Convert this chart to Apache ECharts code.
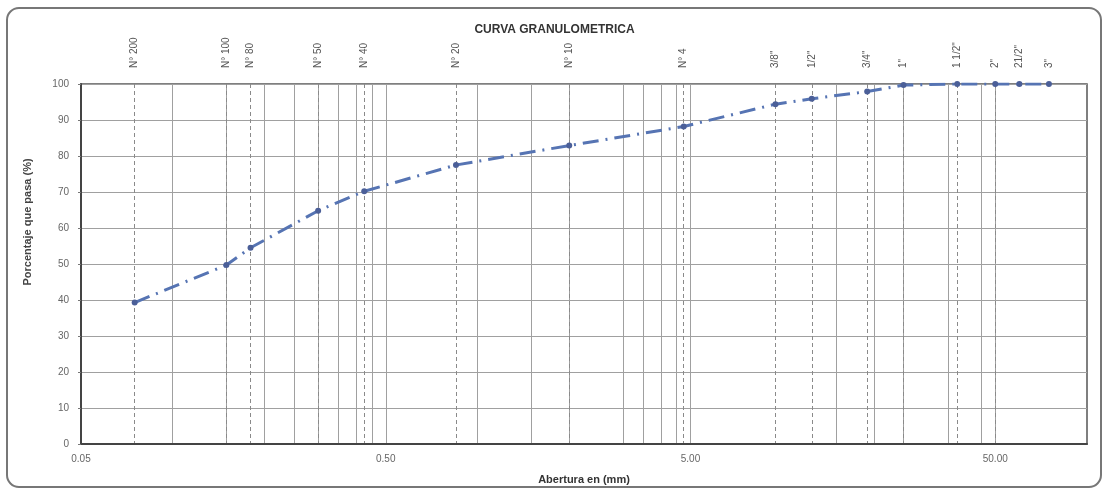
<!DOCTYPE html>
<html>
<head>
<meta charset="utf-8">
<script src="https://cdn.jsdelivr.net/npm/echarts@6/dist/echarts.min.js"></script>
<style>
  html, body { margin: 0; padding: 0; background: #ffffff; }
  #chart { width: 1109px; height: 490px; }
</style>
</head>
<body>
<div id="chart"></div>
<script>
// ---- data ----
const sieveNames = ['N° 200', 'N° 100', 'N° 80', 'N° 50', 'N° 40', 'N° 20', 'N° 10', 'N° 4',
                    '3/8"', '1/2"', '3/4"', '1"', '1 1/2"', '2"', '21/2"', '3"'];
const sieveSizes = [0.075, 0.15, 0.18, 0.30, 0.425, 0.85, 2.00, 4.75,
                    9.5, 12.5, 19.0, 25.0, 37.5, 50.0, 60.0, 75.0];
const percentPassing = [39.3, 49.7, 54.5, 64.8, 70.2, 77.5, 82.9, 88.2,
                        94.4, 95.9, 97.9, 99.7, 100, 100, 100, 100];
// sieves that have a dashed guide line
const guideSizes = [0.075, 0.15, 0.18, 0.30, 0.425, 0.85, 2.00, 4.75,
                    9.5, 12.5, 19.0, 25.0, 37.5, 50.0];
// solid vertical grid lines visible in the reference
const gridSizes = [0.1, 0.15, 0.2, 0.25, 0.3, 0.35, 0.4, 0.45, 0.5,
                   1, 1.5, 2, 3, 3.5, 4, 4.5, 5,
                   15, 20, 25, 35, 45, 50];
const xLabelValues = [0.05, 0.5, 5, 50];
const xMin = 0.05, xMax = 100;
const yMin = 0, yMax = 100, yStep = 10;

const FONT = '"Liberation Sans", Arial, sans-serif';

function sieveLabel(v) {
  let best = 0, bd = Infinity;
  for (let i = 0; i < sieveSizes.length; i++) {
    const d = Math.abs(Math.log(v) - Math.log(sieveSizes[i]));
    if (d < bd) { bd = d; best = i; }
  }
  return sieveNames[best];
}

const chart = echarts.init(document.getElementById('chart'), null, { renderer: 'canvas' });
chart.setOption({
  animation: false,
  backgroundColor: '#ffffff',
  title: {
    text: 'CURVA GRANULOMETRICA',
    left: 'center',
    top: 19,
    textStyle: { fontFamily: FONT, fontSize: 12, fontWeight: 'bold', color: '#333' }
  },
  grid: {
    left: 81, right: 22, top: 84, bottom: 43,
    show: true, borderColor: '#555', borderWidth: 1.5, backgroundColor: 'transparent'
  },
  xAxis: [
    {
      type: 'log', logBase: 10, min: xMin, max: xMax, position: 'bottom',
      name: 'Abertura en (mm)', nameLocation: 'middle', nameGap: 30,
      nameTextStyle: { fontFamily: FONT, fontSize: 11, fontWeight: 'bold', color: '#333' },
      axisLine: { show: true, lineStyle: { color: '#444', width: 2 } },
      axisTick: { show: false, customValues: gridSizes },
      axisLabel: {
        customValues: xLabelValues, margin: 10,
        fontFamily: FONT, fontSize: 10, color: '#666',
        formatter: v => Number(v).toFixed(2)
      },
      splitLine: { show: true, lineStyle: { color: '#a0a0a0', width: 1 } },
      minorSplitLine: { show: false }
    },
    {
      type: 'log', logBase: 10, min: xMin, max: xMax, position: 'top',
      axisLine: { show: false },
      axisTick: { show: false, customValues: guideSizes },
      axisLabel: {
        customValues: sieveSizes, rotate: -90, margin: 16,
        fontFamily: FONT, fontSize: 10, color: '#555',
        formatter: v => sieveLabel(v)
      },
      splitLine: { show: true, lineStyle: { color: '#8a8a8a', width: 1, type: [4, 3] } }
    }
  ],
  yAxis: {
    type: 'value', min: yMin, max: yMax, interval: yStep,
    axisLine: { show: true, lineStyle: { color: '#444', width: 2 } },
    axisTick: { show: true, length: 3, lineStyle: { color: '#777' } },
    axisLabel: { margin: 12, fontFamily: FONT, fontSize: 10, color: '#666' },
    splitLine: { show: true, lineStyle: { color: '#a0a0a0', width: 1 } }
  },
  graphic: [
    {
      type: 'rect', silent: true, z: -10,
      shape: { x: 7, y: 8, width: 1094, height: 479, r: 12 },
      style: { fill: 'none', stroke: '#777', lineWidth: 2 }
    },
    {
      type: 'text', silent: true,
      x: 28, y: 222, rotation: Math.PI / 2,
      style: {
        text: 'Porcentaje que pasa (%)', fontFamily: FONT, fontSize: 11, fontWeight: 'bold',
        fill: '#444', align: 'center', verticalAlign: 'middle'
      }
    }
  ],
  series: [{
    type: 'line',
    xAxisIndex: 0,
    data: sieveSizes.map((s, i) => [s, percentPassing[i]]),
    symbol: 'circle', symbolSize: 6,
    itemStyle: { color: '#4b5f98' },
    lineStyle: { color: '#5674b3', width: 3, type: [16, 7, 2, 7] },
    z: 5
  }]
});
</script>
</body>
</html>
